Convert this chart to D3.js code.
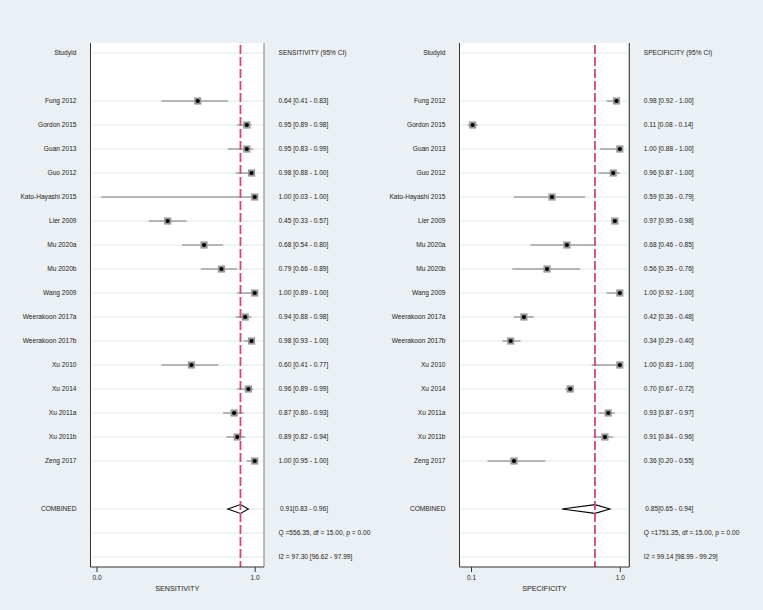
<!DOCTYPE html>
<html lang="en">
<head>
<meta charset="UTF-8">
<title>Forest plot - sensitivity and specificity</title>
<script src="https://d3js.org/d3.v7.min.js"></script>
<style>
    body { margin: 0; background: #eaf0f3; }
    svg { display: block; background: #eaf0f3; font-family: "Liberation Sans", Arial, sans-serif; }
    .lbl { font-size: 6.6px; fill: #222; }
    .ttl { font-size: 7.2px; fill: #222; }
</style>
</head>
<body>
<svg id="chart" width="763" height="610"></svg>
<script>
// study rows
const studies = ["Fung 2012", "Gordon 2015", "Guan 2013", "Guo 2012", "Kato-Hayashi 2015", "Lier 2009",
    "Mu 2020a", "Mu 2020b", "Wang 2009", "Weerakoon 2017a", "Weerakoon 2017b", "Xu 2010",
    "Xu 2014", "Xu 2011a", "Xu 2011b", "Zeng 2017"];

const sens   = [0.64, 0.95, 0.95, 0.98, 1.00, 0.45, 0.68, 0.79, 1.00, 0.94, 0.98, 0.60, 0.96, 0.87, 0.89, 1.00];
const sensLo = [0.41, 0.89, 0.83, 0.88, 0.03, 0.33, 0.54, 0.66, 0.89, 0.88, 0.93, 0.41, 0.89, 0.80, 0.82, 0.95];
const sensHi = [0.83, 0.98, 0.99, 1.00, 1.00, 0.57, 0.80, 0.89, 1.00, 0.98, 1.00, 0.77, 0.99, 0.93, 0.94, 1.00];

const spec   = [0.98, 0.11, 1.00, 0.96, 0.59, 0.97, 0.68, 0.56, 1.00, 0.42, 0.34, 1.00, 0.70, 0.93, 0.91, 0.36];
const specLo = [0.92, 0.08, 0.88, 0.87, 0.36, 0.95, 0.46, 0.35, 0.92, 0.36, 0.29, 0.83, 0.67, 0.87, 0.84, 0.20];
const specHi = [1.00, 0.14, 1.00, 1.00, 0.79, 0.98, 0.85, 0.76, 1.00, 0.48, 0.40, 1.00, 0.72, 0.97, 0.96, 0.55];

const sensPooled = [0.91, 0.83, 0.96];
const specPooled = [0.85, 0.65, 0.94];

const sensStats = ["Q =556.35, df = 15.00, p =  0.00", "I2 = 97.30 [96.62 - 97.99]"];
const specStats = ["Q =1751.35, df = 15.00, p =  0.00", "I2 = 99.14 [98.99 - 99.29]"];

const fmt = d3.format(".2f");

const svg = d3.select("#chart");

// row index -> y ; 0 = header, 2..17 = studies, 19 = combined, 20/21 = stats
const y = d3.scaleLinear().domain([0, 21]).range([53, 557]);
const plotTop = 43, plotBottom = 567;

function panel(opt) {
    const g = svg.append("g");
    const x = opt.x;
    const L = opt.left, R = opt.right;

    // white plot area
    g.append("rect").attr("x", L).attr("y", plotTop)
        .attr("width", R - L).attr("height", plotBottom - plotTop).attr("fill", "#fff");

    // grid lines on filled rows
    const rows = [0].concat(d3.range(2, 18), [19, 20, 21]);
    g.selectAll(".grid").data(rows).enter().append("line")
        .attr("x1", L + 1).attr("x2", R - 1)
        .attr("y1", d => y(d)).attr("y2", d => y(d))
        .attr("stroke", "#eaf2f3").attr("stroke-width", 1.3);

    // header
    g.append("text").attr("class", "lbl").attr("x", L - 14).attr("y", y(0)).attr("dy", "0.35em")
        .attr("text-anchor", "end").text("StudyId");
    g.append("text").attr("class", "lbl").attr("x", R + 14.5).attr("y", y(0)).attr("dy", "0.35em")
        .text(opt.name + " (95% CI)");

    const data = studies.map((s, i) => ({ s, v: opt.est[i], lo: opt.lo[i], hi: opt.hi[i], row: i + 2 }));

    // study labels and values
    g.selectAll(".sl").data(data).enter().append("text").attr("class", "lbl")
        .attr("x", L - 14).attr("y", d => y(d.row)).attr("dy", "0.35em")
        .attr("text-anchor", "end").text(d => d.s);
    g.selectAll(".sv").data(data).enter().append("text").attr("class", "lbl")
        .attr("x", R + 14.5).attr("y", d => y(d.row)).attr("dy", "0.35em")
        .text(d => `${fmt(d.v)} [${fmt(d.lo)} - ${fmt(d.hi)}]`);

    // confidence intervals
    g.selectAll(".ci").data(data).enter().append("line")
        .attr("x1", d => x(d.lo)).attr("x2", d => x(d.hi))
        .attr("y1", d => y(d.row)).attr("y2", d => y(d.row))
        .attr("stroke", "#777").attr("stroke-width", 1);

    // weight boxes and point estimates
    g.selectAll(".box").data(data).enter().append("rect")
        .attr("x", d => x(d.v) - 3.6).attr("y", d => y(d.row) - 3.6)
        .attr("width", 7.2).attr("height", 7.2).attr("fill", "#999");
    g.selectAll(".pt").data(data).enter().append("circle")
        .attr("cx", d => x(d.v)).attr("cy", d => y(d.row)).attr("r", 2.1).attr("fill", "#000");

    // combined
    const p = opt.pooled, cy = y(19);
    g.append("text").attr("class", "lbl").attr("x", L - 14).attr("y", cy).attr("dy", "0.35em")
        .attr("text-anchor", "end").text("COMBINED");
    g.append("text").attr("class", "lbl").attr("x", R + 16).attr("y", cy).attr("dy", "0.35em")
        .text(`${fmt(p[0])}[${fmt(p[1])} - ${fmt(p[2])}]`);
    g.append("path")
        .attr("d", `M${x(p[1])},${cy} L${x(p[0])},${cy - 4.4} L${x(p[2])},${cy} L${x(p[0])},${cy + 4.4} Z`)
        .attr("fill", "#fff").attr("stroke", "#000").attr("stroke-width", 1.1);

    // heterogeneity
    opt.stats.forEach((t, i) => {
        g.append("text").attr("class", "lbl").attr("x", R + 14.5).attr("y", y(20 + i)).attr("dy", "0.35em").text(t);
    });

    // pooled reference line
    g.append("line").attr("x1", x(p[0])).attr("x2", x(p[0]))
        .attr("y1", plotTop + 2).attr("y2", plotBottom)
        .attr("stroke", "#d8466c").attr("stroke-width", 1.8).attr("stroke-dasharray", "9,3");

    // frame
    g.append("line").attr("x1", L).attr("x2", L).attr("y1", plotTop).attr("y2", plotBottom)
        .attr("stroke", "#333").attr("stroke-width", 1);
    g.append("line").attr("x1", R).attr("x2", R).attr("y1", plotTop).attr("y2", plotBottom)
        .attr("stroke", opt.rightBorder).attr("stroke-width", 1.1);
    g.append("line").attr("x1", L).attr("x2", R).attr("y1", plotBottom).attr("y2", plotBottom)
        .attr("stroke", "#333").attr("stroke-width", 1);

    // x axis
    const ax = g.append("g").attr("transform", `translate(0,${plotBottom})`)
        .call(d3.axisBottom(x).tickValues(opt.ticks).tickFormat(d3.format(".1f")).tickSize(5).tickPadding(3));
    ax.select(".domain").remove();
    ax.selectAll("line").attr("stroke", "#333");
    ax.selectAll("text").attr("font-size", 6.6).attr("fill", "#222")
        .attr("font-family", "'Liberation Sans', Arial, sans-serif");

    g.append("text").attr("class", "ttl").attr("x", (L + R) / 2).attr("y", 590.5)
        .attr("text-anchor", "middle").text(opt.name);
}

panel({
    name: "SENSITIVITY",
    left: 90.5, right: 264,
    x: d3.scaleLinear().domain([0, 1]).range([96.5, 254.7]),
    ticks: [0, 1],
    est: sens, lo: sensLo, hi: sensHi, pooled: sensPooled, stats: sensStats,
    rightBorder: "#888"
});

panel({
    name: "SPECIFICITY",
    left: 459.5, right: 629.3,
    x: d3.scaleLinear().domain([0.1, 1]).range([471, 619.8]),
    ticks: [0.1, 1],
    est: spec, lo: specLo, hi: specHi, pooled: specPooled, stats: specStats,
    rightBorder: "#333"
});
</script>
</body>
</html>
